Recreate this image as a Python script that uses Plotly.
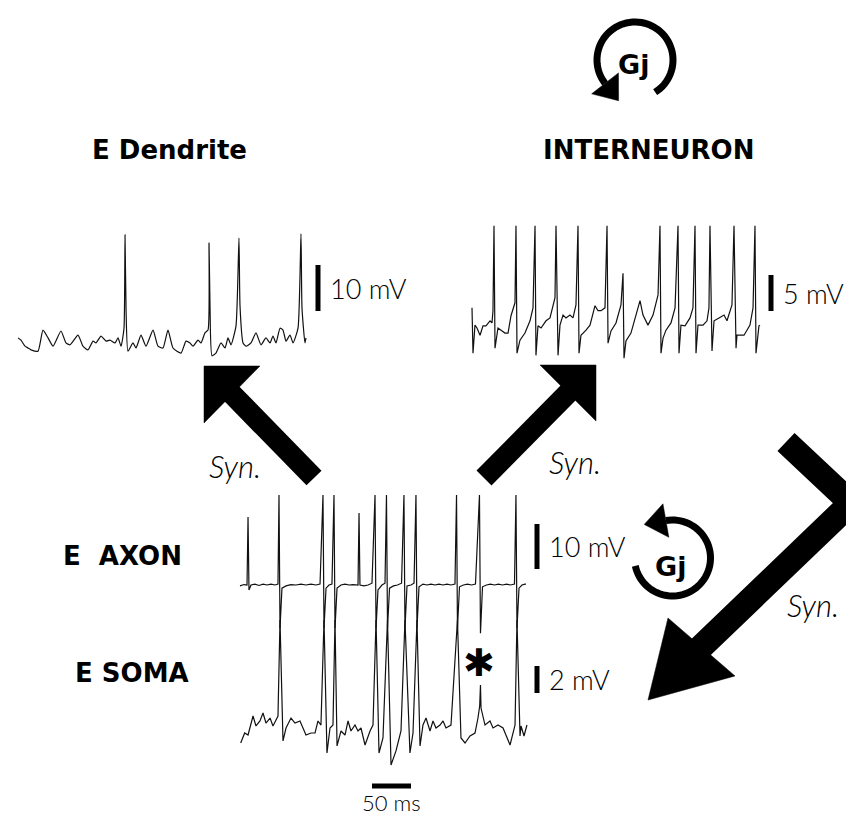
import math
import plotly.graph_objects as go

W, H = 854, 816

# ---------------- recorded traces: (time in ms, potential in mV re. baseline) ----------------
dendrite = [
    (0, 2.2), (3.8, 1.7), (9.0, 0.4), (12.8, 0.0), (16.7, -0.4), (25.6, -0.7), (32.0, 3.9), (38.5, 2.2),
    (44.9, 0.4), (55.1, 3.7), (61.5, 1.1), (66.7, 0.7), (76.9, 2.8), (83.3, 0.4), (89.7, -0.4), (96.2, 1.5),
    (100.0, 1.1), (106.4, 2.6), (112.8, 1.5), (117.9, 1.7), (124.4, 1.1), (128.2, 2.2), (132.1, 0.4),
    (135.9, 4.3), (137.2, 24.6), (138.5, 8.7), (141.0, -0.7), (147.4, 1.1), (151.3, 0.0), (157.7, 2.8),
    (164.1, 0.4), (173.1, 3.9), (179.5, 0.4), (185.9, 0.0), (192.3, 3.9), (198.7, 0.0), (209.0, -1.1),
    (215.4, 1.5), (220.5, 1.1), (224.4, 0.4), (230.8, 1.7), (234.6, 1.1), (239.7, 3.3), (243.6, 3.9),
    (244.9, 22.8), (246.2, 8.7), (248.7, -1.7), (253.8, -1.1), (260.3, 1.1), (265.4, 0.0), (269.2, 2.2),
    (273.1, 0.7), (279.5, 4.8), (283.3, 23.9), (284.6, 9.3), (288.5, 1.1), (292.3, 0.4), (298.7, 1.1),
    (305.1, 3.3), (311.5, 0.7), (317.9, 2.2), (323.1, 1.1), (326.9, 2.6), (330.8, 1.1), (335.9, 4.3),
    (339.7, 3.9), (343.6, 1.5), (348.7, 2.8), (352.6, 1.1), (359.0, 4.3), (362.8, 24.8), (364.1, 8.7),
    (367.9, 1.1), (369.2, 2.2),
]

interneuron = [
    (0.0, 2.8), (1.3, -3.5), (3.8, 0.4), (6.4, 0.0), (10.3, -1.0), (14.1, 0.3), (17.9, 0.3), (23.1, 1.0),
    (25.6, 0.7), (26.9, 2.4), (28.2, 14.2), (29.5, -2.8), (33.3, 0.0), (42.3, -0.7), (46.2, -0.7),
    (50.0, 1.7), (55.1, 3.5), (56.4, 14.2), (57.7, -3.5), (61.5, -1.7), (67.9, -0.7), (74.4, 1.0),
    (78.2, 2.8), (80.8, 14.2), (82.0, -3.8), (84.6, 0.3), (88.5, 0.0), (94.9, 1.0), (100.0, 1.4),
    (106.4, 4.2), (107.7, 14.2), (110.3, -3.8), (112.8, 0.4), (116.7, 1.8), (120.5, 1.4), (125.6, 1.8),
    (129.5, 1.4), (133.3, 3.2), (135.9, 14.2), (137.2, -3.5), (139.7, -1.0), (146.2, -0.3), (151.3, 0.4),
    (157.7, 3.1), (161.5, 2.4), (165.4, 2.4), (170.5, 2.8), (173.1, 14.2), (174.4, -2.1), (178.2, -0.4),
    (184.6, 0.7), (191.0, 3.2), (193.6, 7.6), (194.9, -4.2), (197.4, -1.8), (203.8, -0.7), (215.4, 3.8),
    (219.2, 1.8), (225.6, 0.4), (232.1, 1.8), (238.5, 4.6), (241.0, 14.2), (242.3, -3.5), (244.9, -1.4),
    (248.7, -0.3), (255.1, 0.7), (260.3, 2.8), (264.1, 14.2), (265.4, -3.5), (267.9, 0.4), (273.1, 0.3),
    (279.5, 1.4), (283.3, 2.8), (285.9, 14.2), (287.2, -3.5), (289.7, 0.4), (296.2, 0.4), (301.3, 1.0),
    (303.8, 2.8), (305.1, 14.2), (307.7, -3.2), (310.3, 1.0), (316.7, 1.4), (323.1, 1.8), (326.9, 1.0),
    (333.3, 3.2), (335.9, 14.2), (338.5, -2.8), (339.7, -1.0), (348.7, -1.0), (356.4, 0.4), (360.3, 2.8),
    (362.8, 14.2), (364.1, -3.5), (367.9, 0.3), (369.2, 0.4),
]

axon = [
    (0, -0.2), (5.1, 0.1), (9.0, 0), (10.3, 15.1), (11.5, -1.1), (14.1, 0), (19.2, 0.2), (24.4, -0.1),
    (29.5, 0.2), (34.6, 0), (39.7, 0.2), (44.9, 0), (48.7, 0.2), (50.0, 20), (51.3, -9.6), (53.8, -0.7),
    (59.0, -0.2), (65.4, 0.1), (71.8, 0), (78.2, 0.2), (84.6, 0), (91.0, 0.2), (97.4, 0), (102.6, 0.2),
    (106.4, 20), (107.7, -9.6), (110.3, -0.7), (114.1, 0), (117.9, 0.2), (120.5, 20), (121.8, -9.6),
    (124.4, -0.7), (129.5, 0), (134.6, 0.2), (139.7, 0), (144.9, 0.1), (151.3, 0), (152.6, 16.0),
    (153.8, 0), (159.0, -0.2), (164.1, 0), (169.2, 0.4), (173.1, 20), (174.4, -9.6), (176.9, -1.1),
    (182.0, 0), (185.9, 0.4), (187.8, 20), (189.1, -9.6), (191.7, -0.7), (196.8, -0.2), (201.9, 0),
    (207.1, 0.4), (210.2, 20), (211.5, -9.6), (214.1, -0.2), (219.2, 0), (223.1, 0.4), (225.6, 20),
    (226.9, -9.6), (229.5, -0.4), (234.6, 0.2), (239.7, 0), (244.9, 0.2), (250.0, 0), (255.1, 0.2),
    (260.3, 0), (265.4, 0.2), (270.5, 0), (275.6, 0.2), (277.6, 20), (278.8, -9.6), (281.4, -0.4),
    (286.5, 0), (291.7, 0.2), (296.8, 0), (301.9, 0.2), (307.0, 20), (308.3, -10.7), (310.9, -0.4),
    (316.0, 0), (321.1, 0.2), (326.3, 0), (331.4, 0.2), (336.5, 0), (341.7, 0.2), (346.8, 0),
    (351.9, 0.2), (353.8, 20), (355.1, -9.6), (357.7, -0.7), (361.5, 0), (365.4, 0.2), (366.7, 0.2),
]

soma = [
    (0.9, -1.11), (6.0, -0.37), (10.3, -0.52), (16.7, 0.89), (20.5, 0.15), (25.6, 0.52), (29.5, 1.11),
    (33.3, 0.37), (38.5, 0.74), (42.3, 0.15), (48.7, 0.89), (51.3, 8.0), (55.1, -0.96), (59.0, 0),
    (65.4, 0.74), (70.5, 0.37), (76.9, 0.52), (80.8, 0), (84.6, -0.52), (91.0, -0.37), (96.2, -0.37),
    (100.0, 0.52), (103.8, 0.22), (107.7, 8.0), (111.5, -1.85), (115.4, 0), (119.2, 0.22), (121.8, 8.0),
    (124.4, -1.33), (129.5, -0.22), (134.6, -0.52), (138.5, 0.52), (142.3, -0.22), (147.4, 0.22),
    (151.3, -0.22), (155.1, 0), (160.3, -1.26), (166.7, -0.22), (170.5, 0.22), (174.4, 8.0),
    (178.2, -1.85), (183.3, -0.74), (189.1, 8.0), (193.6, -2.74), (200.0, -1.70), (206.4, -0.22),
    (211.5, 8.0), (217.9, -1.85), (221.8, -0.37), (226.9, 8.0), (230.8, -1.33), (234.6, 0.22),
    (238.5, 0.74), (243.6, -0.22), (247.4, 0.52), (251.3, 0), (256.4, 0.22), (260.3, 0.52), (264.1, 0),
    (270.5, 0.22), (278.8, 8.0), (283.3, -0.74), (288.5, -1.11), (294.9, -0.59), (301.3, -0.37),
    (305.1, 0.74), (307.3, 1.63), (308.3, 3.19), (309.0, 1.48), (314.1, 0.22), (320.5, 0.52), (324.4, 0),
    (330.8, 0.22), (337.2, 0), (346.2, -1.26), (352.6, 0.22), (355.1, 8.0), (359.0, -0.59), (360.3, 0.15),
    (364.1, -0.59), (367.9, 0.22),
]

dend_t, dend_v = [p[0] for p in dendrite], [p[1] for p in dendrite]
int_t, int_v = [p[0] for p in interneuron], [p[1] for p in interneuron]
axon_t, axon_v = [p[0] for p in axon], [p[1] for p in axon]
soma_t, soma_v = [p[0] for p in soma], [p[1] for p in soma]

scale_mv = {"dendrite": 10, "interneuron": 5, "axon": 10, "soma": 2}
scale_ms = 50
titles = {"dendrite": "E Dendrite", "interneuron": "INTERNEURON", "axon": "E  AXON", "soma": "E SOMA"}
syn_label = "Syn."
gj_label = "Gj"

# ---------------- layout (pixel geometry) ----------------
MS_PX = 0.78  # px per ms
PANELS = [
    dict(name="dendrite", t=dend_t, v=dend_v, x0=10, y0=340, sy=4.6, box=(0, 200, 440, 385),
         bar_x=310, bar_y=303, shape="spline"),
    dict(name="interneuron", t=int_t, v=int_v, x0=464, y0=320, sy=7.2, box=(440, 200, 854, 385),
         bar_x=763, bar_y=303, shape="linear"),
    dict(name="axon", t=axon_t, v=axon_v, x0=232, y0=577, sy=4.5, box=(200, 470, 620, 640),
         bar_x=529, bar_y=561, shape="linear"),
    dict(name="soma", t=soma_t, v=soma_v, x0=232, y0=720, sy=13.5, box=(200, 590, 620, 816),
         bar_x=529, bar_y=685, shape="linear"),
]

LIGHT = dict(family="Lato, 'Open Sans', sans-serif", color="black", weight=300)
BOLD = dict(family="'DejaVu Sans', sans-serif", color="black", weight="bold")

fig = go.Figure()
annotations = []
layout_axes = {}

for i, p in enumerate(PANELS, start=1):
    L, T, R, B = p["box"]
    xs = "x" if i == 1 else f"x{i}"
    ys = "y" if i == 1 else f"y{i}"
    xk = "xaxis" if i == 1 else f"xaxis{i}"
    yk = "yaxis" if i == 1 else f"yaxis{i}"
    layout_axes[xk] = dict(domain=[L / W, R / W], range=[(L - p["x0"]) / MS_PX, (R - p["x0"]) / MS_PX],
                           visible=False, anchor=ys, fixedrange=True)
    layout_axes[yk] = dict(domain=[1 - B / H, 1 - T / H], range=[(p["y0"] - B) / p["sy"], (p["y0"] - T) / p["sy"]],
                           visible=False, anchor=xs, fixedrange=True)
    line = dict(color="#111111", width=1.2, shape=p["shape"])
    if p["shape"] == "spline":
        line["smoothing"] = 0.5
    fig.add_trace(go.Scatter(x=p["t"], y=p["v"], mode="lines", xaxis=xs, yaxis=ys,
                             line=line, hoverinfo="skip", showlegend=False))
    # vertical (mV) calibration bar
    tb = (p["bar_x"] - p["x0"]) / MS_PX
    vb = (p["y0"] - p["bar_y"]) / p["sy"]
    mv = scale_mv[p["name"]]
    fig.add_trace(go.Scatter(x=[tb, tb], y=[vb, vb + mv], mode="lines", xaxis=xs, yaxis=ys,
                             line=dict(color="black", width=5), hoverinfo="skip", showlegend=False))
    annotations.append(dict(x=tb + 10 / MS_PX, y=vb + mv / 2, xref=xs, yref=ys, text=f"{mv} mV",
                            showarrow=False, xanchor="left", yanchor="middle", font=dict(size=27, **LIGHT)))
    if p["name"] == "soma":
        t0 = (364 - p["x0"]) / MS_PX
        vt = (p["y0"] - 778) / p["sy"]
        fig.add_trace(go.Scatter(x=[t0, t0 + scale_ms], y=[vt, vt], mode="lines", xaxis=xs, yaxis=ys,
                                 line=dict(color="black", width=5), hoverinfo="skip", showlegend=False))
        annotations.append(dict(x=t0 + scale_ms / 2, y=(p["y0"] - 794) / p["sy"], xref=xs, yref=ys,
                                text=f"{scale_ms} ms", showarrow=False, xanchor="center", yanchor="middle",
                                borderpad=0, font=dict(size=22, **LIGHT)))


def px(x, y):
    return x / W, 1 - y / H


def text(x, y, s, font):
    X, Y = px(x, y)
    annotations.append(dict(x=X, y=Y, xref="paper", yref="paper", text=s, showarrow=False,
                            xanchor="center", yanchor="middle", font=font))


text(161, 142, titles["dendrite"], dict(size=26, **BOLD))
text(640, 142, titles["interneuron"], dict(size=26, **BOLD))
text(114, 548, titles["axon"], dict(size=26, **BOLD))
text(124, 665, titles["soma"], dict(size=26, **BOLD))
SYN = dict(size=31, style="italic", **LIGHT)
text(227, 458, syn_label, SYN)
text(567, 454, syn_label, SYN)
text(805, 597, syn_label, SYN)
text(471, 655, "✱", dict(size=38, family="'DejaVu Sans'", color="black"))
text(625, 57, gj_label, dict(size=27, **BOLD))
text(662, 558, gj_label, dict(size=27, **BOLD))

shapes = []


def path(pts, close=False):
    s = "M " + " L ".join(f"{x / W:.5f},{1 - y / H:.5f}" for x, y in pts)
    return s + (" Z" if close else "")


def stroke(pts, w):
    shapes.append(dict(type="path", xref="paper", yref="paper", path=path(pts),
                       line=dict(color="black", width=w), layer="above"))


def fill(pts):
    shapes.append(dict(type="path", xref="paper", yref="paper", path=path(pts, True),
                       fillcolor="black", line=dict(color="black", width=0.5), layer="above"))


# synaptic arrows
stroke([(306, 470), (222, 384)], 21)
fill([(196, 358), (252, 358), (196, 415)])
stroke([(476, 470), (562, 383)], 21)
fill([(588, 357), (532, 357), (588, 413)])
stroke([(778, 434), (843, 495), (691, 641)], 25)
fill([(640, 692), (660, 610), (727, 668)])


# gap-junction circular arrows
def gj(cx, cy, r, a0, a1, width=7, half=17, length=22):
    n = 60
    pts = []
    for k in range(n + 1):
        a = math.radians(a0 + (a1 - a0) * k / n)
        pts.append((cx + r * math.cos(a), cy + r * math.sin(a)))
    stroke(pts, width)
    a = math.radians(a1)
    ex, ey = cx + r * math.cos(a), cy + r * math.sin(a)
    dx, dy = math.sin(a), -math.cos(a)
    nx, ny = math.cos(a), math.sin(a)
    fill([(ex + half * nx, ey + half * ny), (ex - half * nx, ey - half * ny),
          (ex + length * dx, ey + length * dy)])


gj(627, 52, 38, 58, -218)
gj(664.5, 550, 38, 168, -100)

fig.update_layout(width=W, height=H, margin=dict(l=0, r=0, t=0, b=0), paper_bgcolor="white",
                  plot_bgcolor="rgba(0,0,0,0)", showlegend=False, annotations=annotations, shapes=shapes,
                  **layout_axes)

fig.write_html("out.html")
